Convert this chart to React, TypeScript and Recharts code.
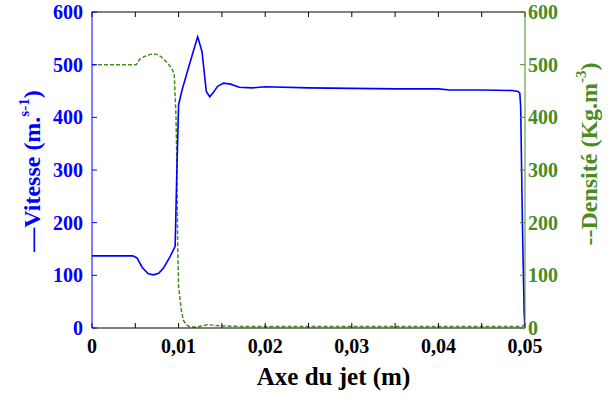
import React from 'react';
import { LineChart, Line, XAxis, YAxis } from 'recharts';

const BLUE = '#0000ff';
const GREEN = '#4b8b1f';
const FONT = '"Liberation Serif", "Times New Roman", serif';

const xTicks = [0, 0.005, 0.01, 0.015, 0.02, 0.025, 0.03, 0.035, 0.04, 0.045, 0.05];
const yTicks = [0, 100, 200, 300, 400, 500, 600];

const velX = [0, 0.0047, 0.0052, 0.0058, 0.0065, 0.0071, 0.0077, 0.0083, 0.009, 0.0096, 0.0098, 0.01, 0.0104, 0.0113, 0.0122, 0.0127, 0.0132, 0.0136, 0.014, 0.0145, 0.0152, 0.016, 0.017, 0.0185, 0.02, 0.025, 0.03, 0.035, 0.04, 0.0413, 0.045, 0.0485, 0.0492, 0.0494, 0.0495, 0.0497, 0.0499, 0.05];
const velY = [137, 137, 133, 115, 103, 101, 104, 115, 135, 155, 300, 424, 452, 503, 553, 525, 449, 439, 447, 459, 465, 463, 457, 456, 458, 456, 455, 454, 454, 452, 452, 451, 449, 446, 420, 200, 30, 0];

const denX = [0, 0.0047, 0.0051, 0.0055, 0.006, 0.0068, 0.0074, 0.008, 0.0088, 0.0093, 0.0095, 0.0097, 0.00978, 0.0099, 0.01, 0.0103, 0.01055, 0.0109, 0.0113, 0.012, 0.0128, 0.0134, 0.014, 0.015, 0.017, 0.02, 0.03, 0.04, 0.0497, 0.05];
const denY = [500, 500, 500, 510, 515, 520, 520, 515, 502, 490, 480, 400, 333, 150, 79, 35, 15, 6, 2, 2, 4, 7, 5, 4, 3, 3, 3, 3, 3, 8];

const velData = velX.map((x, i) => ({ x, v: velY[i] }));
const denData = denX.map((x, i) => ({ x, d: denY[i] }));

const fmtX = (v: number) => {
  const r = Math.round(v * 1000);
  if (r % 10 !== 0) return '';
  if (r === 0) return '0';
  return v.toFixed(2).replace('.', ',');
};

const tickStyle = (fill: string) => ({ fill, fontSize: 20, fontWeight: 'bold', fontFamily: FONT });

const LeftLabel = (props: any) => {
  const vb = props.viewBox || { x: 0, y: 12, width: 92, height: 316 };
  const cx = vb.x + 40;
  const cy = vb.y + vb.height / 2 + 1;
  return (
    <text transform={`translate(${cx}, ${cy}) rotate(-90)`} textAnchor="middle" fill={BLUE} fontSize={24} fontWeight="bold" fontFamily={FONT}>
      <tspan>—Vitesse (m.</tspan>
      <tspan dy={-11} fontSize={15}>s-1</tspan>
      <tspan dy={11}>)</tspan>
    </text>
  );
};

const RightLabel = (props: any) => {
  const vb = props.viewBox || { x: 525, y: 12, width: 84, height: 316 };
  const cx = vb.x + 72;
  const cy = vb.y + vb.height / 2 - 16;
  return (
    <text transform={`translate(${cx}, ${cy}) rotate(-90)`} textAnchor="middle" fill={GREEN} fontSize={24} fontWeight="bold" fontFamily={FONT}>
      <tspan>--Densité (Kg.m</tspan>
      <tspan dy={-11} fontSize={15}>-3</tspan>
      <tspan dy={11}>)</tspan>
    </text>
  );
};

const BottomLabel = (props: any) => {
  const vb = props.viewBox || { x: 92, y: 328, width: 433, height: 67 };
  return (
    <text x={vb.x + vb.width / 2 + 25} y={vb.y + 57} textAnchor="middle" fill="#000" fontSize={25} fontWeight="bold" fontFamily={FONT}>
      Axe du jet (m)
    </text>
  );
};

export default function App() {
  return (
    <div style={{ position: 'absolute', left: 0, top: 0, width: 609, height: 395, background: '#fff' }}>
      <LineChart width={609} height={395} margin={{ top: 11, right: 0, bottom: 0, left: 0 }}>
        <XAxis
          xAxisId="top"
          orientation="top"
          type="number"
          dataKey="x"
          domain={[0, 0.05]}
          ticks={xTicks}
          interval={0}
          height={1}
          stroke="#000"
          tickSize={-5}
          tickFormatter={() => ''}
          allowDataOverflow
        />
        <XAxis
          xAxisId="bottom"
          orientation="bottom"
          type="number"
          dataKey="x"
          domain={[0, 0.05]}
          ticks={xTicks}
          interval={0}
          height={67}
          stroke="#000"
          tickSize={-5}
          tickMargin={16}
          tickFormatter={fmtX}
          tick={tickStyle('#000')}
          allowDataOverflow
          label={<BottomLabel />}
        />
        <YAxis
          yAxisId="v"
          orientation="left"
          type="number"
          domain={[0, 600]}
          ticks={yTicks}
          interval={0}
          width={92}
          stroke={BLUE}
          tickSize={-5}
          tickMargin={14}
          tick={tickStyle(BLUE)}
          label={<LeftLabel />}
        />
        <YAxis
          yAxisId="d"
          orientation="right"
          type="number"
          domain={[0, 600]}
          ticks={yTicks}
          interval={0}
          width={84}
          stroke={GREEN}
          tickSize={-5}
          tickMargin={8}
          tick={tickStyle(GREEN)}
          label={<RightLabel />}
        />
        <Line
          xAxisId="bottom"
          yAxisId="d"
          data={denData}
          dataKey="d"
          type="linear"
          stroke={GREEN}
          strokeWidth={1.5}
          strokeDasharray="4 2"
          dot={false}
          isAnimationActive={false}
        />
        <Line
          xAxisId="bottom"
          yAxisId="v"
          data={velData}
          dataKey="v"
          type="linear"
          stroke={BLUE}
          strokeWidth={1.6}
          dot={false}
          isAnimationActive={false}
        />
      </LineChart>
    </div>
  );
}
